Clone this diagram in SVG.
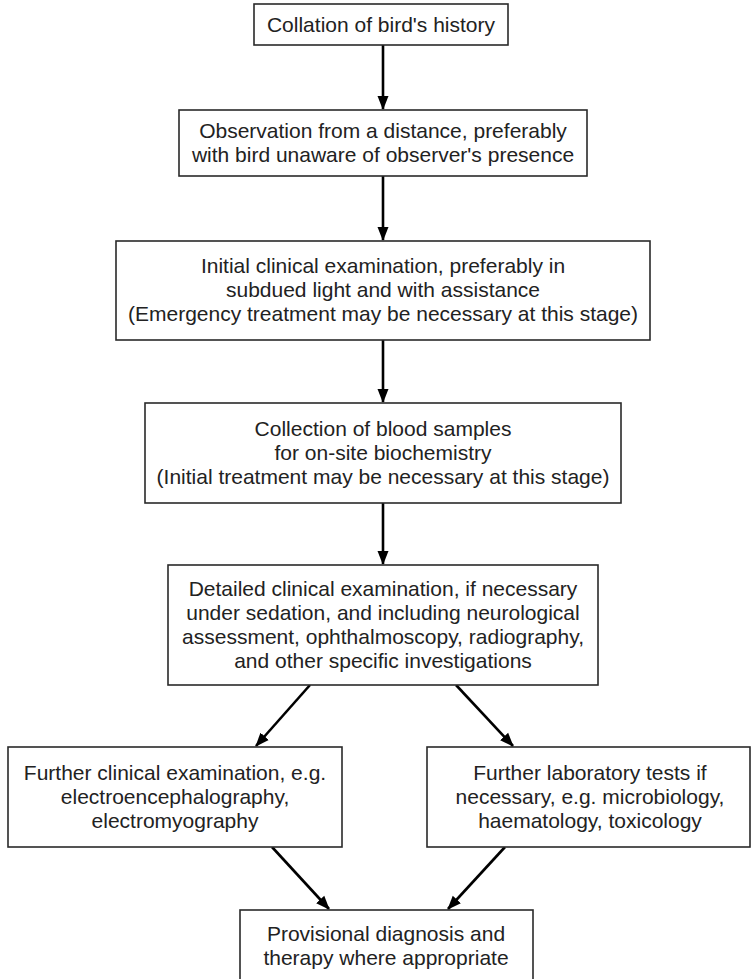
<svg xmlns="http://www.w3.org/2000/svg" width="753" height="979" viewBox="0 0 753 979">
<style>
.box{fill:#fff;stroke:#2a2a2a;stroke-width:1.6}
.t{font-family:"Liberation Sans",Arial,sans-serif;font-size:21px;fill:#222;text-anchor:middle}
.c{stroke:#000;stroke-width:2.6;fill:none;marker-end:url(#ah)}
</style>
<defs>
<marker id="ah" markerUnits="userSpaceOnUse" markerWidth="14" markerHeight="12" refX="13" refY="6" orient="auto">
<path d="M0,0.5 L14,6 L0,11.5 z" fill="#000"/>
</marker>
</defs>
<rect width="753" height="979" fill="#fff"/>
<g id="connectors">
<line class="c" x1="383" y1="45" x2="383" y2="109"/>
<line class="c" x1="383" y1="176" x2="383" y2="240"/>
<line class="c" x1="383" y1="340" x2="383" y2="402"/>
<line class="c" x1="383" y1="503" x2="383" y2="564"/>
<line class="c" x1="310" y1="685" x2="256" y2="746"/>
<line class="c" x1="456" y1="685" x2="513" y2="746"/>
<line class="c" x1="272" y1="847" x2="329" y2="909"/>
<line class="c" x1="505" y1="847" x2="448" y2="909"/>
</g>
<g id="n1">
<rect class="box" x="254" y="4" width="254" height="41"/>
<text class="t" x="381" y="32">Collation of bird's history</text>
</g>
<g id="n2">
<rect class="box" x="179" y="110" width="408" height="66"/>
<text class="t" x="383" y="138">Observation from a distance, preferably</text>
<text class="t" x="383" y="162">with bird unaware of observer's presence</text>
</g>
<g id="n3">
<rect class="box" x="116" y="241" width="534" height="99"/>
<text class="t" x="383" y="273">Initial clinical examination, preferably in</text>
<text class="t" x="383" y="297">subdued light and with assistance</text>
<text class="t" x="383" y="321">(Emergency treatment may be necessary at this stage)</text>
</g>
<g id="n4">
<rect class="box" x="145" y="403" width="476" height="100"/>
<text class="t" x="383" y="436">Collection of blood samples</text>
<text class="t" x="383" y="460">for on-site biochemistry</text>
<text class="t" x="383" y="484">(Initial treatment may be necessary at this stage)</text>
</g>
<g id="n5">
<rect class="box" x="168" y="565" width="430" height="120"/>
<text class="t" x="383" y="596">Detailed clinical examination, if necessary</text>
<text class="t" x="383" y="620">under sedation, and including neurological</text>
<text class="t" x="383" y="644">assessment, ophthalmoscopy, radiography,</text>
<text class="t" x="383" y="668">and other specific investigations</text>
</g>
<g id="n6">
<rect class="box" x="8" y="747" width="334" height="100"/>
<text class="t" x="175" y="780">Further clinical examination, e.g.</text>
<text class="t" x="175" y="804">electroencephalography,</text>
<text class="t" x="175" y="828">electromyography</text>
</g>
<g id="n7">
<rect class="box" x="427" y="747" width="323" height="100"/>
<text class="t" x="590" y="780">Further laboratory tests if</text>
<text class="t" x="590" y="804">necessary, e.g. microbiology,</text>
<text class="t" x="590" y="828">haematology, toxicology</text>
</g>
<g id="n8">
<rect class="box" x="240" y="910" width="293" height="80"/>
<text class="t" x="386" y="941">Provisional diagnosis and</text>
<text class="t" x="386" y="965">therapy where appropriate</text>
</g>
</svg>
